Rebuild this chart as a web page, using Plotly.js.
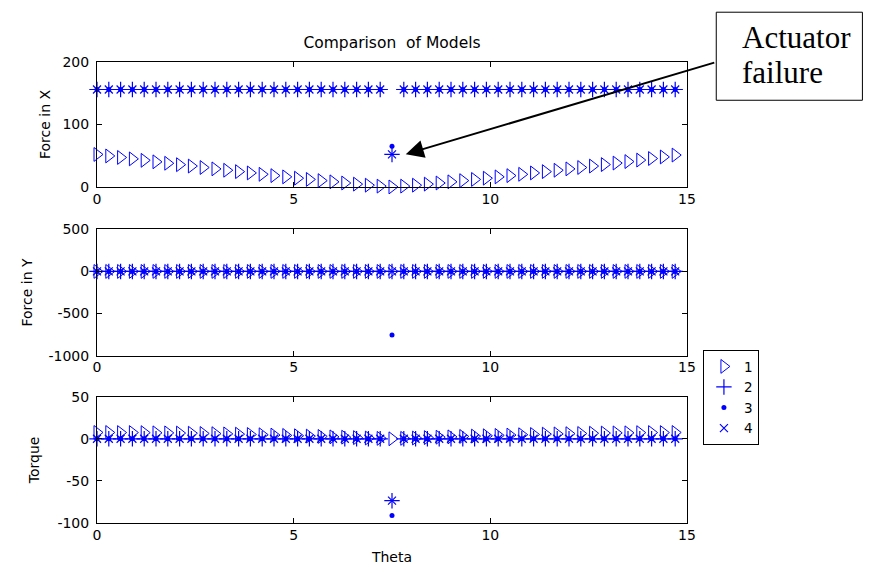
<!DOCTYPE html>
<html>
<head>
<meta charset="utf-8">
<script src="https://cdn.plot.ly/plotly-3.0.1.min.js"></script>
<style>html,body{margin:0;padding:0;background:#fff;}#chart{width:880px;height:573px;}</style>
</head>
<body>
<div id="chart"></div>
<script>
// Theta values (x)
const theta = [0,0.3,0.6,0.9,1.2,1.5,1.8,2.1,2.4,2.7,
  3,3.3,3.6,3.9,4.2,4.5,4.8,5.1,5.4,5.7,
  6,6.3,6.6,6.9,7.2,7.5,7.8,8.1,8.4,8.7,
  9,9.3,9.6,9.9,10.2,10.5,10.8,11.1,11.4,11.7,
  12,12.3,12.6,12.9,13.2,13.5,13.8,14.1,14.4,14.7];

// Force in X
const fx1 = [52.0,49.6,47.2,44.9,42.6,40.2,37.9,35.6,33.4,31.1,
  28.9,26.7,24.5,22.4,20.2,18.1,16.1,14.0,12.0,10.1,
  8.2,6.3,4.5,2.8,1.3,0,1.3,2.8,4.5,6.3,
  8.2,10.1,12.0,14.0,16.1,18.1,20.2,22.4,24.5,26.7,
  28.9,31.1,33.4,35.8,38.2,40.6,43.0,45.5,48.0,51.0];
const fx2 = [156,156,156,156,156,156,156,156,156,156,
  156,156,156,156,156,156,156,156,156,156,
  156,156,156,156,156,52,156,156,156,156,
  156,156,156,156,156,156,156,156,156,156,
  156,156,156,156,156,156,156,156,156,156];
const fx3 = [156,156,156,156,156,156,156,156,156,156,
  156,156,156,156,156,156,156,156,156,156,
  156,156,156,156,156,65,156,156,156,156,
  156,156,156,156,156,156,156,156,156,156,
  156,156,156,156,156,156,156,156,156,156];
const fx4 = [156,156,156,156,156,156,156,156,156,156,
  156,156,156,156,156,156,156,156,156,156,
  156,156,156,156,156,52,156,156,156,156,
  156,156,156,156,156,156,156,156,156,156,
  156,156,156,156,156,156,156,156,156,156];

// Force in Y
const fy1 = [0,0,0,0,0,0,0,0,0,0, 0,0,0,0,0,0,0,0,0,0, 0,0,0,0,0,0,0,0,0,0,
  0,0,0,0,0,0,0,0,0,0, 0,0,0,0,0,0,0,0,0,0];
const fy2 = [0,0,0,0,0,0,0,0,0,0, 0,0,0,0,0,0,0,0,0,0, 0,0,0,0,0,0,0,0,0,0,
  0,0,0,0,0,0,0,0,0,0, 0,0,0,0,0,0,0,0,0,0];
const fy3 = [0,0,0,0,0,0,0,0,0,0, 0,0,0,0,0,0,0,0,0,0, 0,0,0,0,0,-755,0,0,0,0,
  0,0,0,0,0,0,0,0,0,0, 0,0,0,0,0,0,0,0,0,0];
const fy4 = [0,0,0,0,0,0,0,0,0,0, 0,0,0,0,0,0,0,0,0,0, 0,0,0,0,0,0,0,0,0,0,
  0,0,0,0,0,0,0,0,0,0, 0,0,0,0,0,0,0,0,0,0];

// Torque
const tq1 = [7.5,7.5,7.4,7.4,7.3,7.1,7.0,6.8,6.6,6.3,
  6.1,5.8,5.5,5.1,4.8,4.4,4.0,3.6,3.2,2.8,
  2.3,1.9,1.4,0.9,0.5,0,0.5,0.9,1.4,1.9,
  2.3,2.8,3.2,3.6,4.0,4.4,4.8,5.1,5.5,5.8,
  6.1,6.3,6.6,6.8,7.0,7.1,7.3,7.4,7.4,7.5];
const tq2 = [0,0,0,0,0,0,0,0,0,0, 0,0,0,0,0,0,0,0,0,0, 0,0,0,0,0,-73.5,0,0,0,0,
  0,0,0,0,0,0,0,0,0,0, 0,0,0,0,0,0,0,0,0,0];
const tq3 = [0,0,0,0,0,0,0,0,0,0, 0,0,0,0,0,0,0,0,0,0, 0,0,0,0,0,-91,0,0,0,0,
  0,0,0,0,0,0,0,0,0,0, 0,0,0,0,0,0,0,0,0,0];
const tq4 = [0,0,0,0,0,0,0,0,0,0, 0,0,0,0,0,0,0,0,0,0, 0,0,0,0,0,-73.5,0,0,0,0,
  0,0,0,0,0,0,0,0,0,0, 0,0,0,0,0,0,0,0,0,0];

const seriesNames = ['1','2','3','4'];
const xTicks = [0,5,10,15];
const fxTicks = [0,100,200];
const fyTicks = [-1000,-500,0,500];
const tqTicks = [-100,-50,0,50];

const BLUE = '#0000ff';
const markerStyles = [
  {symbol:'triangle-right-open', size:12, color:BLUE, line:{color:BLUE, width:1}},
  {symbol:'cross-thin-open', size:11, color:BLUE, line:{color:BLUE, width:1.2}},
  {symbol:'circle', size:5, color:BLUE, line:{width:0}},
  {symbol:'x-thin-open', size:8, color:BLUE, line:{color:BLUE, width:1.2}}
];

const groups = [
  {data:[fx1,fx2,fx3,fx4], xa:'x', ya:'y', legend:true},
  {data:[fy1,fy2,fy3,fy4], xa:'x2', ya:'y2', legend:false},
  {data:[tq1,tq2,tq3,tq4], xa:'x3', ya:'y3', legend:false}
];
const traces = [];
groups.forEach(g => {
  g.data.forEach((vals, i) => {
    traces.push({
      type:'scatter', mode:'markers', x:theta, y:vals,
      xaxis:g.xa, yaxis:g.ya, name:seriesNames[i],
      showlegend:g.legend,
      cliponaxis:false, marker:markerStyles[i], hoverinfo:'skip'
    });
  });
});

const FONT = 'DejaVu Sans';
const axBase = {
  showline:true, linecolor:'black', linewidth:1, mirror:'ticks',
  ticks:'inside', ticklen:5, tickcolor:'black', tickwidth:1,
  showgrid:false, zeroline:false, fixedrange:true,
  tickfont:{family:FONT, size:14, color:'black'}
};
function xa(anchor, extra){ return Object.assign({}, axBase, {anchor:anchor, range:[0,15], tickvals:xTicks, ticktext:xTicks.map(String), ticklabelstandoff:-1}, extra||{}); }
function ya(anchor, dom, rng, tv, title, standoff){
  return Object.assign({}, axBase, {anchor:anchor, domain:dom, range:rng, tickvals:tv, ticktext:tv.map(String), ticklabelstandoff:4,
    title:{text:title, standoff:standoff, font:{family:FONT, size:14, color:'black'}}});
}

const layout = {
  width:880, height:573,
  margin:{l:97, r:193, t:62, b:50, pad:0},
  paper_bgcolor:'#ffffff', plot_bgcolor:'#ffffff',
  font:{family:FONT, size:14, color:'black'},
  title:{text:'Comparison\u00a0 of Models', x:0.5, xref:'paper', xanchor:'center', y:0.925, yref:'container', yanchor:'middle',
    font:{family:FONT, size:15.5, color:'black'}},
  xaxis: xa('y'),
  xaxis2: xa('y2'),
  xaxis3: xa('y3', {title:{text:'Theta', standoff:10, font:{family:FONT, size:14, color:'black'}}}),
  yaxis: ya('x', [0.729,1], [0,200], fxTicks, 'Force in X', 8),
  yaxis2: ya('x2', [0.363,0.637], [-1000,500], fyTicks, 'Force in Y', 12),
  yaxis3: ya('x3', [0,0.274], [-100,50], tqTicks, 'Torque', 14),
  showlegend:true,
  legend:{x:1.027, y:0.375, xref:'paper', yref:'paper', xanchor:'left', yanchor:'top',
    bordercolor:'black', borderwidth:1, bgcolor:'#ffffff', itemwidth:30, tracegroupgap:0,
    font:{family:FONT, size:13.5, color:'black'}},
  shapes:[
    {type:'rect', xref:'paper', yref:'paper', x0:1.0496, x1:1.2973, y0:0.917, y1:1.108,
      line:{color:'black', width:1}, fillcolor:'#ffffff', layer:'above'}
  ],
  annotations:[
    {xref:'paper', yref:'paper', x:1.0903, y:1.0521, xanchor:'left', yanchor:'middle', align:'left', showarrow:false,
      text:'Actuator', font:{family:'Liberation Serif', size:31, color:'black'}},
    {xref:'paper', yref:'paper', x:1.0903, y:0.9783, xanchor:'left', yanchor:'middle', align:'left', showarrow:false,
      text:'failure', font:{family:'Liberation Serif', size:31, color:'black'}},
    {xref:'x', yref:'y', x:7.85, y:52.4, text:'', showarrow:true, axref:'pixel', ayref:'pixel',
      ax:310, ay:-92, arrowhead:2, arrowsize:1.8, arrowwidth:2, arrowcolor:'black'}
  ]
};

Plotly.newPlot('chart', traces, layout, {displayModeBar:false, staticPlot:true});
</script>
</body>
</html>
